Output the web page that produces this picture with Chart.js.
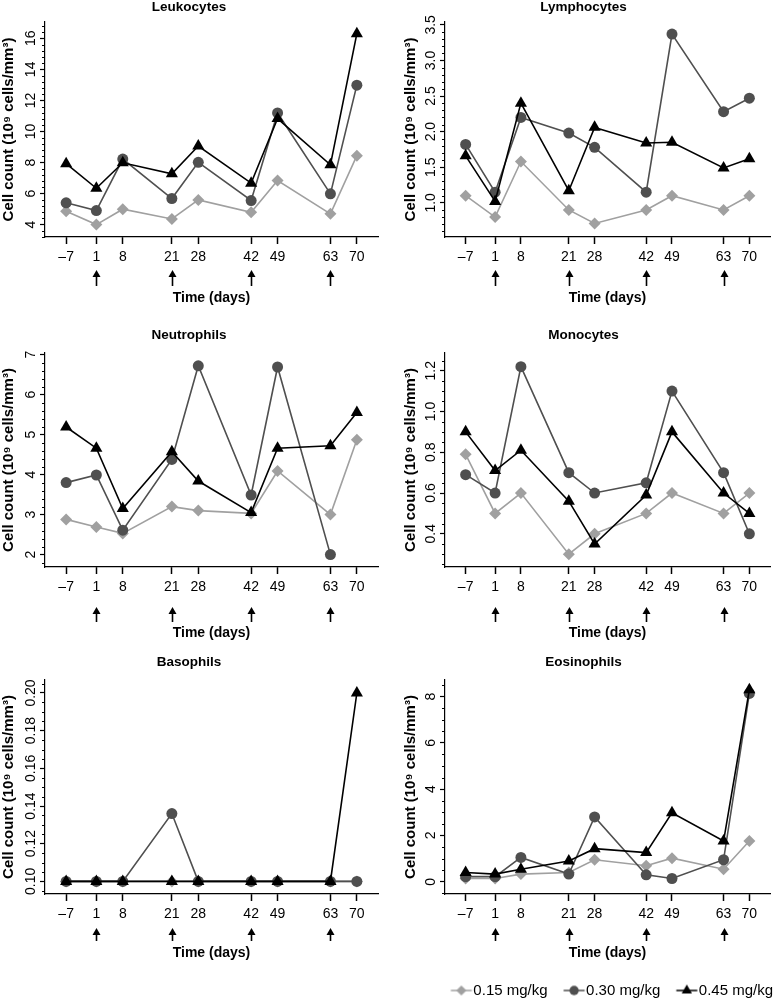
<!DOCTYPE html>
<html>
<head>
<meta charset="utf-8">
<script src="https://cdn.jsdelivr.net/npm/chart.js@4/dist/chart.umd.min.js"></script>
<style>
  html, body { margin: 0; padding: 0; background: #fff; overflow: hidden; }
  body { position: relative; width: 777px; height: 1002px; }
  canvas { position: absolute; }
</style>
</head>
<body>
<script>
// x positions (days) shared by every panel
const days = [-7, 1, 8, 21, 28, 42, 49, 63, 70];
const dayLabels = ['\u20137', '1', '8', '21', '28', '42', '49', '63', '70'];
const dosingDays = [1, 21, 42, 63];
const doseLabels = ['0.15 mg/kg', '0.30 mg/kg', '0.45 mg/kg'];

// Leukocytes
const leukoLow  = [4.86, 4.0, 4.99, 4.36, 5.59, 4.79, 6.84, 4.69, 8.44];
const leukoMid  = [5.4, 4.9, 8.22, 5.68, 8.01, 5.55, 11.19, 5.98, 12.98];
const leukoHigh = [7.92, 6.34, 7.98, 7.27, 9.06, 6.67, 10.83, 7.85, 16.3];
const leukoTicks = [4, 6, 8, 10, 12, 14, 16];
const leukoTickLabels = ['4', '6', '8', '10', '12', '14', '16'];

// Lymphocytes
const lymphoLow  = [1.10, 0.80, 1.58, 0.90, 0.71, 0.90, 1.10, 0.90, 1.10];
const lymphoMid  = [1.82, 1.15, 2.20, 1.98, 1.78, 1.15, 3.37, 2.28, 2.47];
const lymphoHigh = [1.66, 1.02, 2.40, 1.17, 2.06, 1.84, 1.85, 1.49, 1.62];
const lymphoTicks = [1.0, 1.5, 2.0, 2.5, 3.0, 3.5];
const lymphoTickLabels = ['1.0', '1.5', '2.0', '2.5', '3.0', '3.5'];

// Neutrophils
const neutroLow  = [2.88, 2.69, 2.53, 3.2, 3.1, 3.03, 4.09, 3.0, 4.87];
const neutroMid  = [3.8, 3.99, 2.61, 4.38, 6.72, 3.49, 6.69, 2.0, null];
const neutroHigh = [5.19, 4.66, 3.15, 4.57, 3.84, 3.05, 4.66, 4.72, 5.55];
const neutroTicks = [2, 3, 4, 5, 6, 7];
const neutroTickLabels = ['2', '3', '4', '5', '6', '7'];

// Monocytes
const monoLow  = [0.79, 0.5, 0.6, 0.3, 0.4, 0.5, 0.6, 0.5, 0.6];
const monoMid  = [0.69, 0.6, 1.22, 0.70, 0.6, 0.65, 1.1, 0.7, 0.4];
const monoHigh = [0.9, 0.71, 0.81, 0.56, 0.35, 0.59, 0.9, 0.6, 0.5];
const monoTicks = [0.4, 0.6, 0.8, 1.0, 1.2];
const monoTickLabels = ['0.4', '0.6', '0.8', '1.0', '1.2'];

// Basophils
const basoLow  = [0.1, 0.1, 0.1, 0.1, 0.1, 0.1, 0.1, 0.1, 0.1];
const basoMid  = [0.1, 0.1, 0.1, 0.136, 0.1, 0.1, 0.1, 0.1, 0.1];
const basoHigh = [0.1, 0.1, 0.1, 0.1, 0.1, 0.1, 0.1, 0.1, 0.2];
const basoTicks = [0.10, 0.12, 0.14, 0.16, 0.18, 0.20];
const basoTickLabels = ['0.10', '0.12', '0.14', '0.16', '0.18', '0.20'];

// Eosinophils
const eosinoLow  = [0.14, 0.14, 0.33, 0.4, 0.95, 0.69, 1.02, 0.54, 1.76];
const eosinoMid  = [0.22, 0.22, 1.05, 0.33, 2.8, 0.3, 0.14, 0.95, 8.14];
const eosinoHigh = [0.4, 0.33, 0.54, 0.9, 1.43, 1.26, 2.98, 1.76, 8.3];
const eosinoTicks = [0, 2, 4, 6, 8];
const eosinoTickLabels = ['0', '2', '4', '6', '8'];

const FONT = '"Liberation Sans", Arial, Helvetica, sans-serif';
const yTitleText = 'Cell count (10\u2079 cells/mm\u00b3)';

const seriesStyle = [
  { color: '#a0a0a0', pointStyle: 'rectRot', radius: 6 },
  { color: '#4f4f4f', pointStyle: 'circle', radius: 5.5 },
  { color: '#000000', pointStyle: 'triangle', radius: 7 }
];

// page layout of the 3 x 2 grid
const rows = [
  { top: -2, titleY: 7, areaTop: 22, areaBottom: 237, xTitleY: 298, arrowTop: 33, arrowLen: 16 },
  { top: 318, titleY: 335, areaTop: 353, areaBottom: 567, xTitleY: 633, arrowTop: 40, arrowLen: 15 },
  { top: 640, titleY: 662, areaTop: 680, areaBottom: 894, xTitleY: 953, arrowTop: 34, arrowLen: 13 }
];
const cols = [
  { left: 0, width: 390, axisW: 45, padRight: 12, yTitlePad: 0 },
  { left: 390, width: 387, axisW: 55, padRight: 0, yTitlePad: 12 }
];

const panels = [
  { title: 'Leukocytes', row: 0, col: 0, yMin: 3.2, yMax: 17.05, minorStep: 0.4,
    ticks: leukoTicks, labels: leukoTickLabels, series: [leukoLow, leukoMid, leukoHigh] },
  { title: 'Lymphocytes', row: 0, col: 1, yMin: 0.52, yMax: 3.54, minorStep: 0.1,
    ticks: lymphoTicks, labels: lymphoTickLabels, series: [lymphoLow, lymphoMid, lymphoHigh] },
  { title: 'Neutrophils', row: 1, col: 0, yMin: 1.69, yMax: 7.04, minorStep: 0.2,
    ticks: neutroTicks, labels: neutroTickLabels, series: [neutroLow, neutroMid, neutroHigh] },
  { title: 'Monocytes', row: 1, col: 1, yMin: 0.237, yMax: 1.287, minorStep: 0.05,
    ticks: monoTicks, labels: monoTickLabels, series: [monoLow, monoMid, monoHigh] },
  { title: 'Basophils', row: 2, col: 0, yMin: 0.0933, yMax: 0.2069, minorStep: 0.005,
    ticks: basoTicks, labels: basoTickLabels, series: [basoLow, basoMid, basoHigh] },
  { title: 'Eosinophils', row: 2, col: 1, yMin: -0.53, yMax: 8.72, minorStep: 0.5,
    ticks: eosinoTicks, labels: eosinoTickLabels, series: [eosinoLow, eosinoMid, eosinoHigh], legend: true }
];

Chart.defaults.font.family = FONT;
Chart.defaults.color = '#000';

// small line + marker pictures for the legend
function legendIcon(st) {
  const c = document.createElement('canvas');
  c.width = 42; c.height = 16;
  const g = c.getContext('2d');
  g.strokeStyle = st.color; g.fillStyle = st.color; g.lineWidth = 1.5;
  g.beginPath(); g.moveTo(19.5, 8); g.lineTo(40.5, 8); g.stroke();
  Chart.helpers.drawPoint(g, { pointStyle: st.pointStyle, radius: st.radius * 0.85, rotation: 0, borderWidth: 0 }, 30, 8);
  return c;
}

// minor y ticks, rotated y tick labels and the dosing arrows
function makeDecor(p, row) {
  return {
    id: 'decor',
    afterDraw(chart) {
      const ctx = chart.ctx;
      const xs = chart.scales.x, ys = chart.scales.y;
      const area = chart.chartArea;
      ctx.save();
      ctx.strokeStyle = '#000';
      ctx.fillStyle = '#000';
      ctx.lineWidth = 1;
      const start = Math.ceil(p.yMin / p.minorStep);
      const end = Math.floor(p.yMax / p.minorStep);
      for (let k = start; k <= end; k++) {
        const v = k * p.minorStep;
        if (p.ticks.some(t => Math.abs(t - v) < p.minorStep / 10)) continue;
        const y = Math.round(ys.getPixelForValue(v)) + 0.5;
        ctx.beginPath();
        ctx.moveTo(area.left - 3, y);
        ctx.lineTo(area.left, y);
        ctx.stroke();
      }
      ctx.font = '14px ' + FONT;
      ctx.textAlign = 'center';
      ctx.textBaseline = 'middle';
      p.ticks.forEach((v, i) => {
        ctx.save();
        ctx.translate(area.left - 14, ys.getPixelForValue(v));
        ctx.rotate(-Math.PI / 2);
        ctx.fillText(p.labels[i], 0, 0);
        ctx.restore();
      });
      ctx.lineWidth = 1.6;
      dosingDays.forEach(d => {
        const x = Math.round(xs.getPixelForValue(d)) + 0.5;
        const top = area.bottom + row.arrowTop;
        ctx.beginPath();
        ctx.moveTo(x, top + 5);
        ctx.lineTo(x, top + row.arrowLen);
        ctx.stroke();
        ctx.beginPath();
        ctx.moveTo(x, top);
        ctx.lineTo(x - 4, top + 7);
        ctx.lineTo(x + 4, top + 7);
        ctx.closePath();
        ctx.fill();
      });
      ctx.restore();
    }
  };
}

const icons = seriesStyle.map(legendIcon);

panels.forEach(p => {
  const row = rows[p.row];
  const col = cols[p.col];
  const titleLH = 13.5 * 1.2;
  const axisLH = 14 * 1.2;
  const legendH = p.legend ? 29 : 0;
  const canvasBottom = p.legend ? 1008 : Math.round(row.xTitleY + axisLH / 2 + 2);
  const height = canvasBottom - row.top;
  const xScaleH = height - legendH - (row.areaBottom - row.top);
  const xTitlePadBottom = (canvasBottom - legendH) - row.xTitleY - axisLH / 2;

  const canvas = document.createElement('canvas');
  canvas.width = col.width;
  canvas.height = height;
  canvas.style.left = col.left + 'px';
  canvas.style.top = row.top + 'px';
  document.body.appendChild(canvas);

  const datasets = p.series.map((vals, i) => ({
    label: doseLabels[i],
    data: days.map((d, k) => ({ x: d, y: vals[k] })),
    borderColor: seriesStyle[i].color,
    backgroundColor: seriesStyle[i].color,
    pointBackgroundColor: seriesStyle[i].color,
    pointBorderWidth: 0,
    pointStyle: seriesStyle[i].pointStyle,
    pointRadius: seriesStyle[i].radius,
    borderWidth: 1.6,
    tension: 0,
    clip: false,
    order: 2 - i
  }));

  new Chart(canvas, {
    type: 'line',
    data: { datasets: datasets },
    plugins: [makeDecor(p, row)],
    options: {
      responsive: false,
      animation: false,
      devicePixelRatio: 1,
      events: [],
      layout: { padding: { left: 0, right: col.padRight, top: 0, bottom: 0 } },
      plugins: {
        tooltip: { enabled: false },
        title: {
          display: true,
          text: p.title,
          color: '#000',
          font: { size: 13.5, weight: 'bold', family: FONT },
          padding: { top: row.titleY - row.top - titleLH / 2, bottom: row.areaTop - row.titleY - titleLH / 2 }
        },
        legend: p.legend ? {
          display: true,
          position: 'bottom',
          align: 'end',
          labels: {
            usePointStyle: true,
            pointStyleWidth: 27,
            boxHeight: 15,
            padding: 4,
            color: '#000',
            font: { size: 15, family: FONT },
            generateLabels: () => doseLabels.map((t, i) => ({
              text: t,
              pointStyle: icons[i],
              fillStyle: seriesStyle[i].color,
              strokeStyle: seriesStyle[i].color,
              lineWidth: 0,
              hidden: false,
              datasetIndex: i
            }))
          }
        } : { display: false }
      },
      scales: {
        x: {
          type: 'linear',
          min: -12.6,
          max: 75.6,
          afterBuildTicks: s => { s.ticks = days.map(v => ({ value: v })); },
          afterFit: s => { s.height = xScaleH; },
          ticks: {
            autoSkip: false,
            maxRotation: 0,
            padding: 5,
            color: '#000',
            font: { size: 14, family: FONT },
            callback: (v) => dayLabels[days.indexOf(v)]
          },
          grid: { drawOnChartArea: false, drawTicks: true, tickLength: 7, tickColor: '#000', tickWidth: 1.5 },
          border: { display: true, color: '#000', width: 1.2 },
          title: {
            display: true,
            text: 'Time (days)',
            color: '#000',
            font: { size: 14, weight: 'bold', family: FONT },
            padding: { top: 0, bottom: xTitlePadBottom }
          }
        },
        y: {
          type: 'linear',
          min: p.yMin,
          max: p.yMax,
          afterBuildTicks: s => { s.ticks = p.ticks.map(v => ({ value: v })); },
          afterFit: s => { s.width = col.axisW; },
          ticks: { display: false },
          grid: { drawOnChartArea: false, drawTicks: true, tickLength: 5, tickColor: '#000', tickWidth: 1.2 },
          border: { display: true, color: '#000', width: 1.2 },
          title: {
            display: true,
            text: yTitleText,
            color: '#000',
            font: { size: 15, weight: 'bold', family: FONT },
            padding: { top: col.yTitlePad, bottom: 0 }
          }
        }
      }
    }
  });
});
</script>
</body>
</html>
